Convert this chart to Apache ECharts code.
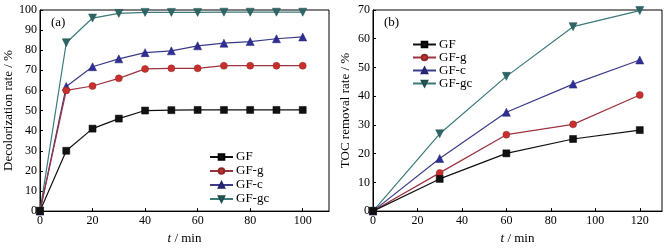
<!DOCTYPE html>
<html>
<head>
<meta charset="utf-8">
<script src="https://cdn.jsdelivr.net/npm/echarts@6/dist/echarts.min.js"></script>
<style>
  html, body { margin: 0; padding: 0; background: #fff; }
  #main { width: 668px; height: 250px; }
</style>
</head>
<body>
<div id="main"></div>
<script>
// (a) decolorization rate vs time
var timeA = [0, 10, 20, 30, 40, 50, 60, 70, 80, 90, 100];
var gfA   = [0, 30, 41, 46, 50, 50.2, 50.3, 50.3, 50.3, 50.3, 50.3];
var gfgA  = [0, 60, 62.2, 66, 70.7, 71, 71, 72.3, 72.3, 72.3, 72.3];
var gfcA  = [0, 62, 71.8, 75.7, 78.8, 79.7, 82.2, 83.5, 84.3, 85.7, 86.6];
var gfgcA = [0, 83.7, 96, 98.3, 98.8, 98.8, 98.8, 98.9, 98.9, 98.9, 98.9];

// (b) TOC removal rate vs time
var timeB = [0, 30, 60, 90, 120];
var gfB   = [0, 11.2, 20.1, 25.1, 28.2];
var gfgB  = [0, 13.3, 26.6, 30.2, 40.4];
var gfcB  = [0, 18.3, 34.4, 44.2, 52.6];
var gfgcB = [0, 26.9, 46.9, 64.2, 69.8];

var names = ['GF', 'GF-g', 'GF-c', 'GF-gc'];

function main() {
    var myChart = echarts.init(document.getElementById('main'));

    var font = 'Liberation Serif';
    var styles = [
        {color: '#111111', symbol: 'rect', border: '#000000'},
        {color: '#c9302c', symbol: 'circle', border: '#8a2a2a', line: '#9e3340'},
        {color: '#2e2e96', symbol: 'triangle', border: '#23236e', line: '#3b3b8a'},
        {color: '#2d6665', symbol: 'path://M0,0 L10,0 L5,9 Z', border: '#1f4d4c', line: '#3a7a78'}
    ];

    function pairs(xs, ys) {
        return xs.map(function (x, i) { return [x, ys[i]]; });
    }

    function makeSeries(idx, data, k) {
        var s = styles[k];
        return {
            name: names[k],
            type: 'line',
            xAxisIndex: idx,
            yAxisIndex: idx,
            data: data,
            symbol: s.symbol,
            symbolSize: k >= 2 ? 8 : 7,
            showSymbol: true,
            z: 10 - k,
            lineStyle: {color: s.line || s.color, width: 1.2},
            itemStyle: {color: s.color, borderColor: s.border, borderWidth: 0.5},
            emphasis: {disabled: true}
        };
    }

    function xAxis(idx, max) {
        return {
            type: 'value', gridIndex: idx, min: 0, max: max, interval: 20,
            name: '{i|t} / min', nameLocation: 'middle', nameGap: 19,
            nameTextStyle: {
                fontFamily: font, fontSize: 13, color: '#000',
                rich: {i: {fontFamily: font, fontStyle: 'italic', fontSize: 13, color: '#000'}}
            },
            axisLine: {lineStyle: {color: '#000', width: 1}},
            axisTick: {inside: true, length: 3, lineStyle: {color: '#000'}},
            axisLabel: {fontFamily: font, fontSize: 12, color: '#000', margin: 4, showMaxLabel: false},
            splitLine: {show: false}
        };
    }

    function yAxis(idx, max, title) {
        return {
            type: 'value', gridIndex: idx, min: 0, max: max, interval: 10,
            name: title, nameLocation: 'middle', nameGap: 21,
            nameTextStyle: {fontFamily: font, fontSize: 13, color: '#000'},
            axisLine: {lineStyle: {color: '#000', width: 1}},
            axisTick: {inside: true, length: 3, lineStyle: {color: '#000'}},
            axisLabel: {fontFamily: font, fontSize: 12, color: '#000', margin: 3},
            splitLine: {show: false}
        };
    }

    function legend(left, top, rowH) {
        return {
            orient: 'vertical', left: left, top: top, padding: 0,
            data: names, itemWidth: 23, itemHeight: 7, itemGap: 0,
            textStyle: {fontFamily: font, fontSize: 13, color: '#000', lineHeight: rowH, height: rowH, padding: [0, 0, 0, -2]},
            selectedMode: false
        };
    }

    var seriesA = [gfA, gfgA, gfcA, gfgcA].map(function (ys, k) {
        return makeSeries(0, pairs(timeA, ys), k);
    });
    var seriesB = [gfB, gfgB, gfcB, gfgcB].map(function (ys, k) {
        return makeSeries(1, pairs(timeB, ys), k);
    });

    var option = {
        backgroundColor: '#fff',
        animation: false,
        grid: [
            {left: 40, top: 10, width: 289, height: 211, show: true, borderColor: '#000', borderWidth: 1},
            {left: 373, top: 10, width: 289, height: 210, show: true, borderColor: '#000', borderWidth: 1}
        ],
        xAxis: [xAxis(0, 110), xAxis(1, 130)],
        yAxis: [yAxis(0, 100, 'Decolorization rate / %'), yAxis(1, 70, 'TOC removal rate / %')],
        legend: [legend(209, 150, 14), legend(412, 38, 13)],
        graphic: [
            {type: 'text', left: 51, top: 16, style: {text: '(a)', font: '13px "Liberation Serif"', fill: '#000'}},
            {type: 'text', left: 384, top: 16, style: {text: '(b)', font: '13px "Liberation Serif"', fill: '#000'}}
        ],
        series: seriesA.concat(seriesB)
    };

    myChart.setOption(option);
}

main();
</script>
</body>
</html>
